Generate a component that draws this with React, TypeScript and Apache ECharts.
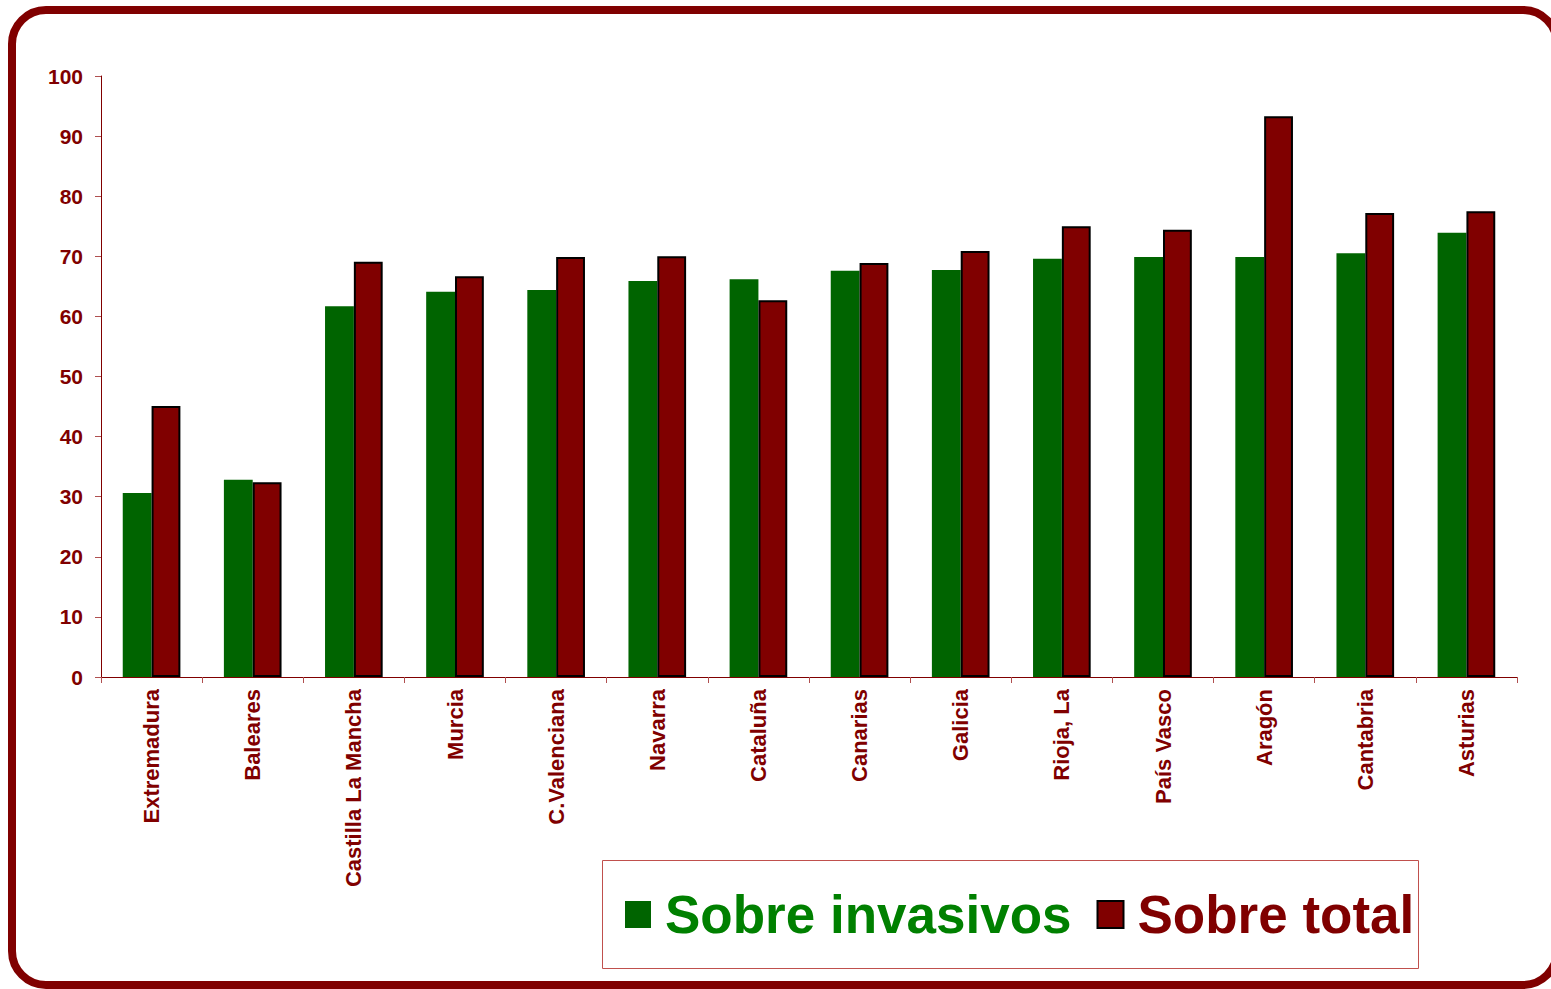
import React, { useEffect, useRef } from "react";
import * as echarts from "echarts";

const categories = [
  "Extremadura",
  "Baleares",
  "Castilla La Mancha",
  "Murcia",
  "C.Valenciana",
  "Navarra",
  "Cataluña",
  "Canarias",
  "Galicia",
  "Rioja, La",
  "País Vasco",
  "Aragón",
  "Cantabria",
  "Asturias",
];
const sobreInvasivos = [30.6, 32.8, 61.7, 64.1, 64.4, 65.9, 66.2, 67.6, 67.7, 69.6, 69.9, 69.9, 70.5, 73.9];
const sobreTotal = [45.1, 32.4, 69.1, 66.7, 69.9, 70.0, 62.7, 68.9, 70.9, 75.0, 74.4, 93.3, 77.2, 77.5];
const yTicks = { min: 0, max: 100, interval: 10 };

const DARK_RED = "#800000";
const GREEN = "#006400";
const FONT = "'Liberation Sans', Arial, sans-serif";

export default function App() {
  const ref = useRef<HTMLDivElement>(null);
  useEffect(() => {
    if (!ref.current) return;
    const chart = echarts.init(ref.current, undefined, { renderer: "svg" });
    chart.setOption({
      animation: false,
      backgroundColor: "#ffffff",
      textStyle: { fontFamily: FONT },
      grid: { left: 101, right: 34, top: 76, bottom: 312, containLabel: false },
      xAxis: {
        type: "category",
        data: categories,
        axisLine: { lineStyle: { color: DARK_RED, width: 1 } },
        axisTick: { show: true, length: 6, lineStyle: { color: "#b05050" } },
        axisLabel: {
          rotate: 90,
          margin: 12,
          color: DARK_RED,
          fontWeight: "bold",
          fontSize: 22,
          fontFamily: FONT,
          interval: 0,
        },
      },
      yAxis: {
        type: "value",
        min: yTicks.min,
        max: yTicks.max,
        interval: yTicks.interval,
        splitLine: { show: false },
        axisLine: { show: true, lineStyle: { color: DARK_RED, width: 1 } },
        axisTick: { show: true, length: 6, lineStyle: { color: "#b05050" } },
        axisLabel: {
          color: DARK_RED,
          fontWeight: "bold",
          fontSize: 21,
          fontFamily: FONT,
          margin: 18,
        },
      },
      legend: {
        left: 625,
        top: 888,
        padding: 0,
        itemWidth: 26,
        itemHeight: 27,
        itemGap: 25,
        icon: "rect",
        textStyle: { fontSize: 53, fontWeight: "bold", fontFamily: FONT, padding: [0, 0, 0, 9] },
        data: [
          { name: "Sobre invasivos", textStyle: { color: "#008000" } },
          { name: "Sobre total", textStyle: { color: DARK_RED } },
        ],
      },
      graphic: [
        {
          type: "rect",
          shape: { x: 12, y: 10, width: 1545, height: 975, r: 34 },
          style: { fill: "none", stroke: DARK_RED, lineWidth: 8 },
          silent: true,
          z: 100,
        },
        {
          type: "rect",
          shape: { x: 602.5, y: 860.5, width: 816, height: 108 },
          style: { fill: "none", stroke: "#c0504d", lineWidth: 1 },
          silent: true,
        },
      ],
      series: [
        {
          name: "Sobre invasivos",
          type: "bar",
          data: sobreInvasivos,
          barGap: "0%",
          barCategoryGap: "43%",
          itemStyle: { color: GREEN },
        },
        {
          name: "Sobre total",
          type: "bar",
          data: sobreTotal,
          barGap: "0%",
          barCategoryGap: "43%",
          itemStyle: {
            color: DARK_RED,
            borderColor: "#000000",
            borderWidth: 2,
          },
        },
      ],
    });
    return () => chart.dispose();
  }, []);
  return (
    <div
      ref={ref}
      style={{ position: "absolute", left: 0, top: 0, width: 1551, height: 989 }}
    />
  );
}
